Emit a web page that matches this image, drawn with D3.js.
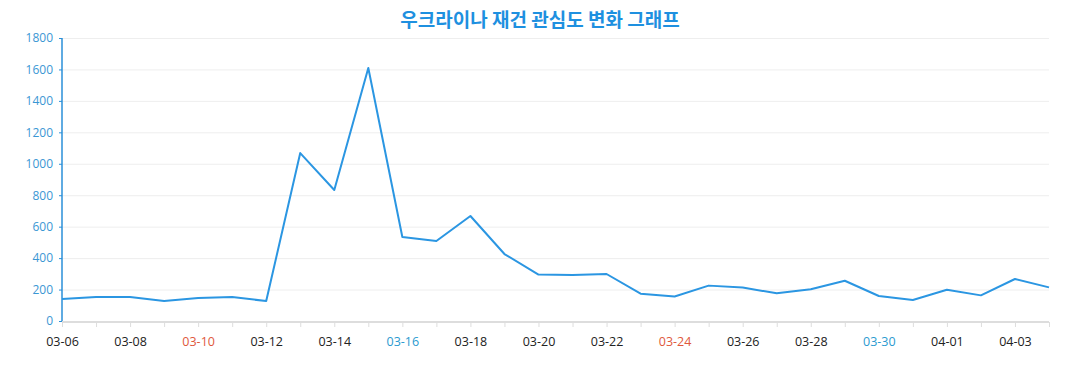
<!DOCTYPE html>
<html><head><meta charset="utf-8">
<script src="https://cdn.jsdelivr.net/npm/d3@7"></script>
<style>body{margin:0;background:#fff;font-family:"Open Sans","Noto Sans",sans-serif}</style>
</head><body><svg id="c" width="1077" height="390"></svg>
<script>
const dates = ["03-06","03-07","03-08","03-09","03-10","03-11","03-12","03-13","03-14","03-15","03-16","03-17","03-18","03-19","03-20","03-21","03-22","03-23","03-24","03-25","03-26","03-27","03-28","03-29","03-30","03-31","04-01","04-02","04-03","04-04"];
const values = [140,152,152,127,146,152,127,1068,833,1609,534,509,668,426,295,293,299,174,156,225,213,176,202,256,159,134,199,163,267,214];
const yTicks = [0,200,400,600,800,1000,1200,1400,1600,1800];
const redDates = ["03-10","03-24"];
const blueDates = ["03-16","03-30"];
const title = "우크라이나 재건 관심도 변화 그래프";

const svg = d3.select("#c");
const L=62,R=1049,T=38,B=321;
const x = d3.scalePoint().domain(dates).range([L,R]);
const y = d3.scaleLinear().domain([0,1800]).range([B,T]);

svg.append("text").attr("x",540).attr("y",27).attr("text-anchor","middle")
  .attr("font-family","'Noto Sans CJK KR',sans-serif").attr("font-weight","bold").attr("font-size",19)
  .attr("fill","#1e90e0").text(title);

// grid
svg.append("g").selectAll("line").data(yTicks.slice(1)).join("line")
  .attr("x1",L).attr("x2",R).attr("y1",d=>y(d)+0.5).attr("y2",d=>y(d)+0.5)
  .attr("stroke","#eeeeee").attr("stroke-width",1);

// y axis
const ya = svg.append("g").attr("transform",`translate(${L},0)`).call(d3.axisLeft(y).tickValues(yTicks).tickFormat(d3.format("d")).tickSize(3).tickPadding(6));
ya.select(".domain").attr("stroke","#2a8fd8").attr("stroke-width",1.5).attr("d",`M0,${T}V${B}`);
ya.selectAll(".tick line").attr("stroke","#2a8fd8");
ya.selectAll("text").attr("fill","#3a97d4").attr("font-size",12).attr("font-family","'Open Sans',sans-serif");

// x axis
const xa = svg.append("g").attr("transform",`translate(0,${B+1})`).call(d3.axisBottom(x).tickSize(5).tickPadding(10));
xa.select(".domain").attr("stroke","#dddddd").attr("stroke-width",2).attr("d",`M${L},0H${R}`);
xa.selectAll(".tick line").attr("stroke","#dddddd");
xa.selectAll("text").attr("font-size",12.5).attr("font-family","'Open Sans',sans-serif")
  .attr("fill",d=>redDates.includes(d)?"#e0583c":blueDates.includes(d)?"#2b9ad0":"#222")
  .style("display",(d,i)=>i%2===0?null:"none");

// line
svg.append("path").datum(values).attr("fill","none").attr("stroke","#2b96e2").attr("stroke-width",2)
  .attr("stroke-linejoin","round")
  .attr("d",d3.line().x((d,i)=>x(dates[i])).y(d=>y(d)));
</script></body></html>
